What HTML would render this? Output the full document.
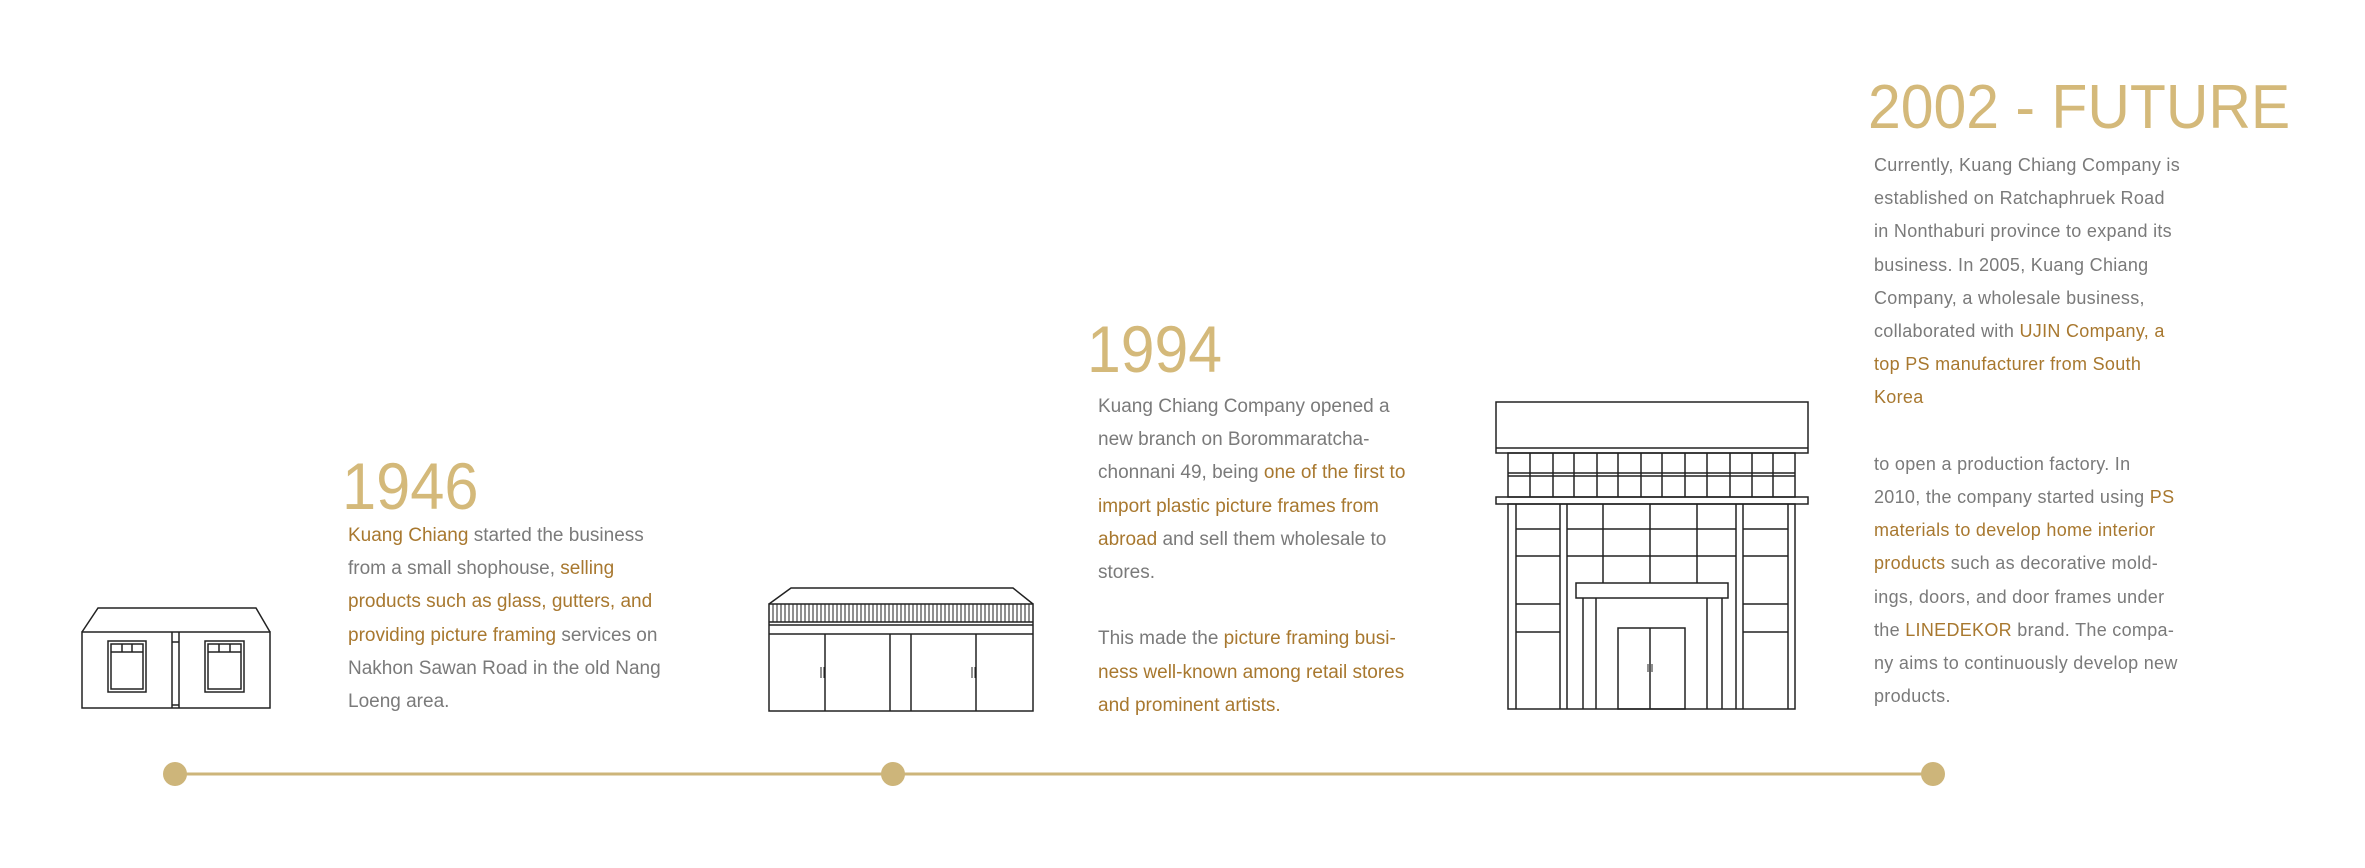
<!DOCTYPE html>
<html><head><meta charset="utf-8"><style>
html,body{margin:0;padding:0;background:#fff;}
body{width:2365px;height:868px;position:relative;overflow:hidden;font-family:"Liberation Sans",sans-serif;}
.yr{position:absolute;color:#d4b97a;font-weight:300;line-height:1;white-space:nowrap;transform-origin:0 0;}
.tx{position:absolute;color:#7a7a7a;font-size:19px;line-height:33.2px;white-space:nowrap;}
.tx b{font-weight:normal;color:#a8782f;}
svg{position:absolute;left:0;top:0;}
</style></head><body>
<svg width="2365" height="868" viewBox="0 0 2365 868" fill="none" stroke="#222" stroke-width="1.5">
<line x1="175" y1="774" x2="1933" y2="774" stroke="#cdb57a" stroke-width="3"/>
<circle cx="175" cy="774" r="12" fill="#cdb57a" stroke="none"/>
<circle cx="893" cy="774" r="12" fill="#cdb57a" stroke="none"/>
<circle cx="1933" cy="774" r="12" fill="#cdb57a" stroke="none"/>
<polyline points="82,632 98,608 256,608 270,632"/>
<rect x="82" y="632" width="188" height="76"/>
<line x1="172" y1="632" x2="172" y2="708"/><line x1="179" y1="632" x2="179" y2="708"/>
<line x1="172" y1="642" x2="179" y2="642"/><line x1="172" y1="705" x2="179" y2="705"/>
<rect x="108" y="641" width="38" height="51"/><rect x="111" y="644" width="32" height="45"/>
<line x1="111" y1="652" x2="143" y2="652"/><line x1="122" y1="644" x2="122" y2="652"/><line x1="132" y1="644" x2="132" y2="652"/>
<rect x="205" y="641" width="39" height="51"/><rect x="208" y="644" width="33" height="45"/>
<line x1="208" y1="652" x2="241" y2="652"/><line x1="219" y1="644" x2="219" y2="652"/><line x1="230" y1="644" x2="230" y2="652"/>
<polyline points="769,604 791,588 1013,588 1033,604"/>
<rect x="769" y="604" width="264" height="107"/>
<line x1="769" y1="622" x2="1033" y2="622"/>
<line x1="769" y1="625" x2="1033" y2="625"/>
<line x1="769" y1="634" x2="1033" y2="634"/>
<g stroke-width="1">
<path d="M773 604v18M777 604v18M781 604v18M785 604v18M789 604v18M793 604v18M797 604v18M801 604v18M805 604v18M809 604v18M813 604v18M817 604v18M821 604v18M825 604v18M829 604v18M833 604v18M837 604v18M841 604v18M845 604v18M849 604v18M853 604v18M857 604v18M861 604v18M865 604v18M869 604v18M873 604v18M877 604v18M881 604v18M885 604v18M889 604v18M893 604v18M897 604v18M901 604v18M905 604v18M909 604v18M913 604v18M917 604v18M921 604v18M925 604v18M929 604v18M933 604v18M937 604v18M941 604v18M945 604v18M949 604v18M953 604v18M957 604v18M961 604v18M965 604v18M969 604v18M973 604v18M977 604v18M981 604v18M985 604v18M989 604v18M993 604v18M997 604v18M1001 604v18M1005 604v18M1009 604v18M1013 604v18M1017 604v18M1021 604v18M1025 604v18M1029 604v18"/>
<path d="M821 667v11M824 667v11M972 667v11M975 667v11"/>
</g>
<line x1="825" y1="634" x2="825" y2="711"/><line x1="890" y1="634" x2="890" y2="711"/>
<line x1="911" y1="634" x2="911" y2="711"/><line x1="976" y1="634" x2="976" y2="711"/>
<rect x="1496" y="402" width="312" height="51"/>
<line x1="1496" y1="448" x2="1808" y2="448"/>
<rect x="1508" y="453" width="287" height="44"/>
<line x1="1508" y1="473" x2="1795" y2="473"/><line x1="1508" y1="476" x2="1795" y2="476"/>
<path d="M1530 453v44M1553 453v44M1574 453v44M1597 453v44M1618 453v44M1641 453v44M1662 453v44M1685 453v44M1707 453v44M1730 453v44M1752 453v44M1773 453v44"/>
<rect x="1496" y="497" width="312" height="7"/>
<rect x="1508" y="504" width="287" height="205"/>
<path d="M1516 504v205M1788 504v205M1560 504v205M1567 504v205M1736 504v205M1743 504v205"/>
<path d="M1516 529h44M1516 556h44M1516 604h44M1516 632h44M1743 529h45M1743 556h45M1743 604h45M1743 632h45"/>
<path d="M1567 529h169M1567 556h169M1603 504v79M1650 504v79M1697 504v79"/>
<rect x="1576" y="583" width="152" height="15"/>
<path d="M1583 598v111M1596 598v111M1707 598v111M1722 598v111"/>
<rect x="1618" y="628" width="67" height="81"/>
<line x1="1650" y1="628" x2="1650" y2="709"/>
<path d="M1648 664v8M1652 664v8" stroke-width="1"/>
</svg>

<div class="yr" style="left:342px;top:453px;font-size:66px;transform:scaleX(0.93);">1946</div>
<div class="tx" style="left:348px;top:519px;"><b>Kuang Chiang</b> started the business<br>from a small shophouse, <b>selling</b><br><b>products such as glass, gutters, and</b><br><b>providing picture framing</b> services on<br>Nakhon Sawan Road in the old Nang<br>Loeng area.</div>

<div class="yr" style="left:1087px;top:316px;font-size:66px;transform:scaleX(0.92);">1994</div>
<div class="tx" style="left:1098px;top:390px;">Kuang Chiang Company opened a<br>new branch on Borommaratcha-<br>chonnani 49, being <b>one of the first to</b><br><b>import plastic picture frames from</b><br><b>abroad</b> and sell them wholesale to<br>stores.<br>&nbsp;<br>This made the <b>picture framing busi-</b><br><b>ness well-known among retail stores</b><br><b>and prominent artists.</b></div>

<div class="yr" style="left:1868px;top:77px;font-size:62px;transform:scaleX(0.95);">2002 - FUTURE</div>
<div class="tx" style="left:1874px;top:149px;font-size:18px;letter-spacing:0.3px;">Currently, Kuang Chiang Company is<br>established on Ratchaphruek Road<br>in Nonthaburi province to expand its<br>business. In 2005, Kuang Chiang<br>Company, a wholesale business,<br>collaborated with <b>UJIN Company, a</b><br><b>top PS manufacturer from South</b><br><b>Korea</b><br>&nbsp;<br>to open a production factory. In<br>2010, the company started using <b>PS</b><br><b>materials to develop home interior</b><br><b>products</b> such as decorative mold-<br>ings, doors, and door frames under<br>the <b>LINEDEKOR</b> brand. The compa-<br>ny aims to continuously develop new<br>products.</div>
</body></html>
